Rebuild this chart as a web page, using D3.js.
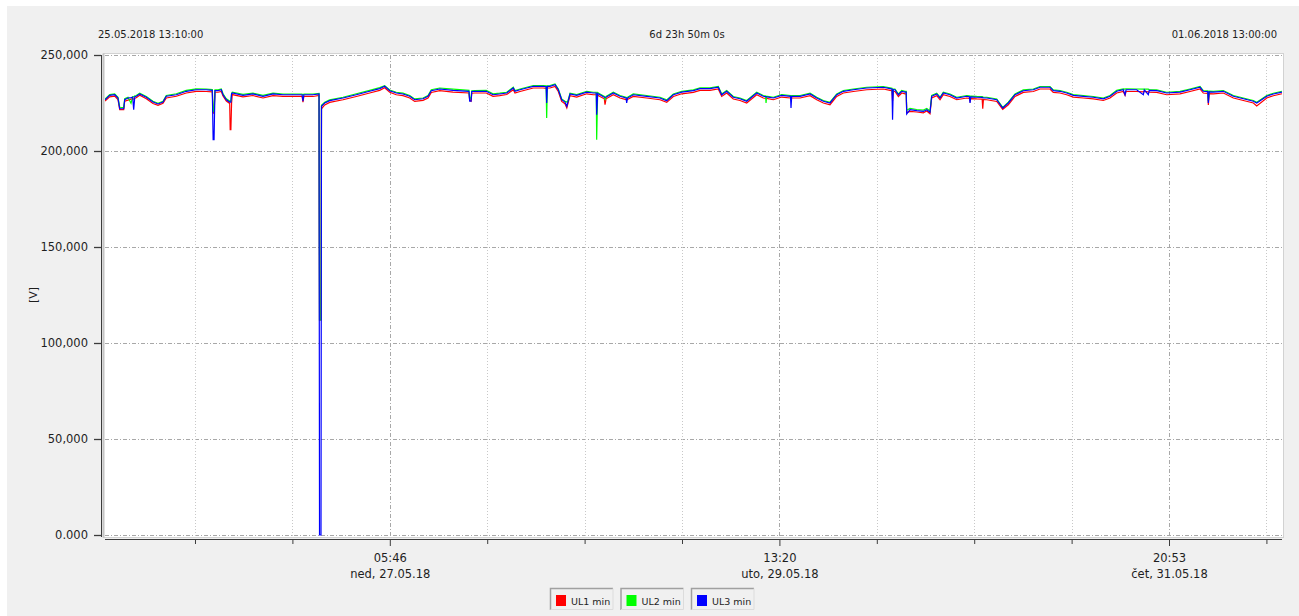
<!DOCTYPE html>
<html>
<head>
<meta charset="utf-8">
<script src="https://cdn.jsdelivr.net/npm/d3@7"></script>
<style>
html,body{margin:0;padding:0;background:#fff;}
svg{display:block;font-family:"DejaVu Sans",sans-serif;}
</style>
</head>
<body>
<svg id="chart" width="1299" height="616"></svg>
<script>
// ===== data =====
const startTime = '2018-05-25 13:10:00';
const endTime   = '2018-06-01 13:00:00';

// hours since start
const hours = [
0,0.67,1.38,1.85,2.10,2.67,2.81,3.28,3.71,3.95,4.09,4.25,4.46,4.95,5.89,6.84,7.56,8.27,8.74,10.17,
11.59,13.02,14.44,15.30,15.42,15.55,15.68,16.11,16.58,16.83,17.30,17.78,17.85,17.95,18.05,18.15,19.68,21.10,22.53,23.96,
25.38,26.81,28.10,28.23,28.36,29.66,30.52,30.59,30.80,30.87,31.33,32.04,33.94,35.83,37.74,39.17,39.88,40.60,41.54,42.49,
43.45,44.16,45.35,46.06,46.53,47.73,49.62,51.90,52.00,52.20,52.30,52.72,54.37,55.33,56.28,57.28,58.22,58.46,59.18,60.13,
61.07,62.50,62.90,62.98,63.08,63.45,64.17,64.64,65.12,65.59,65.85,66.00,66.31,67.26,68.69,69.63,70.05,70.11,70.25,70.58,
71.20,71.30,71.45,72.48,73.44,74.30,74.39,74.50,75.33,77.24,79.14,80.10,81.04,82.24,83.89,84.84,86.27,87.45,87.94,88.65,
89.59,90.55,91.50,92.93,93.87,94.20,94.26,94.35,95.30,96.49,97.75,97.82,97.92,99.11,100.54,101.49,102.43,103.38,104.34,105.28,
106.71,108.62,110.98,111.94,112.22,112.30,112.40,112.65,113.13,113.61,114.08,114.25,114.32,114.79,115.75,116.69,117.18,117.64,117.88,118.60,
119.07,119.54,120.49,121.45,122.88,123.25,123.35,123.45,124.30,125.08,125.16,125.26,125.73,127.16,128.01,128.81,129.76,130.95,132.37,133.33,
134.75,135.22,136.18,137.13,138.07,139.50,140.93,142.35,143.31,144.26,145.20,145.45,145.60,147.11,148.06,148.20,148.77,148.90,149.97,151.39,
153.29,154.71,156.14,156.61,157.25,157.33,157.45,158.04,159.47,160.90,162.32,163.75,164.23,165.66,166.60,167.83
];

// UL1 min (red)
const ul1 = [
226.0,228.2,228.6,226.8,221.6,221.6,225.9,226.5,227.0,227.2,227.0,227.5,227.7,229.0,227.2,224.7,223.8,224.8,227.6,228.5,
230.2,231.1,231.0,230.8,220.0,219.5,230.6,230.6,231.0,228.6,226.0,224.8,211.1,211.1,225.0,229.4,228.2,228.9,227.6,228.8,
228.5,228.4,228.5,225.5,228.5,228.4,228.9,112,112,222.0,224.0,225.3,226.7,228.4,230.2,231.6,232.9,230.6,229.3,228.8,
227.6,225.8,226.4,227.6,230.5,231.4,230.7,230.2,226.5,226.0,230.1,230.2,230.2,228.5,228.8,229.4,231.9,230.2,231.0,231.9,
232.8,232.8,232.6,232.6,232.8,232.8,233.6,231.0,225.8,224.6,222.4,224.6,228.8,228.1,229.8,229.3,229.3,229.0,229.1,228.4,
227.2,224.1,227.2,229.3,227.6,226.8,226.5,226.8,228.4,227.6,226.7,225.3,228.4,229.8,230.5,231.6,231.6,232.3,228.4,230.2,
227.1,226.3,225.0,229.3,227.6,227.4,227.4,227.4,226.7,228.1,227.6,227.0,227.6,227.6,228.8,226.7,225.0,224.1,228.4,230.2,
231.0,231.9,232.3,231.6,231.4,226.0,231.0,231.0,228.4,230.2,229.8,229.8,220.0,220.6,220.3,219.9,220.8,219.4,227.6,228.8,
226.7,229.3,228.4,226.7,227.6,227.4,226.0,227.3,227.1,227.0,222.0,226.8,226.7,225.8,221.7,224.1,228.4,230.5,231.0,232.3,
232.3,230.5,230.2,229.3,228.1,227.6,227.1,226.3,227.6,230.2,231.0,229.0,231.0,231.0,230.8,231.0,230.8,230.7,230.5,229.3,
229.8,231.0,232.3,230.2,230.0,224.0,229.9,229.8,230.2,227.6,226.3,225.0,223.5,227.6,228.8,229.8
];

// UL2 min (green)
const ul2 = [
227.0,229.4,229.8,228.0,222.8,222.6,227.2,228.0,224.8,228.3,228.2,228.7,228.9,230.1,228.4,225.9,224.9,225.9,228.9,229.8,
231.6,232.4,232.3,232.0,220.5,221.0,231.8,231.8,232.3,229.8,227.2,226.0,226.0,226.0,230.0,230.6,229.5,230.1,229.0,230.1,
229.7,229.7,229.7,229.2,229.7,229.7,230.0,112,112,223.8,225.4,226.6,228.0,229.8,231.6,233.0,234.0,231.8,230.6,230.1,
228.9,227.1,227.6,228.9,231.9,232.8,232.2,231.6,227.0,228.0,231.4,231.5,231.6,229.8,230.1,230.6,233.2,231.5,232.3,233.2,
234.1,234.1,234.0,217.2,234.0,234.1,234.9,232.3,227.1,225.9,225.5,225.9,230.1,229.4,231.1,230.6,230.6,205.9,230.4,229.7,
228.4,226.5,228.4,230.6,228.9,228.0,227.8,228.0,229.7,228.9,228.0,226.6,229.7,231.1,231.8,232.9,232.9,233.6,229.7,231.5,
228.4,227.6,226.3,230.6,228.9,228.7,225.0,228.6,228.0,229.4,228.9,228.5,228.9,228.9,230.1,228.0,226.3,225.4,229.7,231.5,
232.3,233.2,233.6,232.9,232.7,229.0,232.3,232.3,229.7,231.5,231.1,231.1,221.2,222.2,221.6,221.3,222.1,220.8,228.9,230.1,
228.0,230.6,229.7,228.0,228.9,228.7,228.5,228.6,228.4,228.3,228.2,228.1,228.0,227.1,222.7,225.4,229.7,231.8,232.3,233.6,
233.6,231.8,231.5,230.6,229.4,228.9,228.4,227.6,228.9,231.6,232.4,232.2,232.4,232.3,232.2,232.3,232.2,232.0,231.8,230.6,
231.1,232.3,233.6,231.5,231.3,226.0,231.2,231.1,231.5,228.9,227.6,226.3,225.4,228.9,230.1,231.1
];

// UL3 min (blue)
const ul3 = [
226.7,229.0,229.3,227.6,222.0,222.0,226.7,227.6,227.8,228.0,221.5,228.3,228.5,229.7,228.0,225.5,224.5,225.5,228.5,229.3,
231.1,231.9,231.9,231.6,205.9,205.9,231.4,231.4,231.9,229.3,226.7,225.5,225.5,225.5,229.8,230.2,229.0,229.7,228.5,229.7,
229.3,229.3,229.3,226.0,229.3,229.3,229.7,0,0,223.3,225.0,226.2,227.6,229.3,231.1,232.5,233.7,231.4,230.2,229.7,
228.5,226.7,227.2,228.5,231.4,232.3,231.6,231.1,225.9,225.9,231.0,231.1,231.1,229.3,229.7,230.2,232.8,231.1,231.9,232.8,
233.7,233.7,233.5,225.0,233.7,233.7,234.5,231.9,226.7,225.5,223.3,225.5,229.7,229.0,230.7,230.2,230.2,218.9,230.0,229.3,
228.0,228.0,228.0,230.2,228.5,227.6,225.0,227.6,229.3,228.5,227.6,226.2,229.3,230.7,231.4,232.5,232.5,233.2,229.3,231.1,
228.0,227.2,225.9,230.2,228.5,228.3,228.3,228.2,227.6,229.0,228.5,222.4,228.5,228.5,229.7,227.6,225.9,225.0,229.3,231.1,
231.9,232.8,233.2,232.5,232.3,216.3,232.0,231.9,229.3,231.1,230.7,230.7,219.3,221.5,221.0,220.6,221.5,220.1,228.5,229.7,
227.6,230.2,229.3,227.6,228.5,228.3,225.0,228.2,228.0,227.9,227.8,227.7,227.6,226.7,222.4,225.0,229.3,231.4,231.9,233.2,
233.2,231.4,231.1,230.2,229.0,228.5,228.0,227.2,228.5,231.1,231.9,229.3,231.9,231.9,229.3,231.8,229.3,231.6,231.4,230.2,
230.7,231.9,233.2,231.1,230.9,225.0,230.8,230.7,231.1,228.5,227.2,225.9,225.0,228.5,229.7,230.7
];

const seriesNames  = ['UL1 min','UL2 min','UL3 min'];
const seriesColors = ['#ff0000','#00ff00','#0000ff'];

const yTicks      = [0,50,100,150,200,250];
const yTickLabels = ['0.000','50,000','100,000','150,000','200,000','250,000'];

const majorTicks = ['2018-05-27 05:46:40','2018-05-29 13:20:00','2018-05-31 20:53:20'];
const minorTicks = ['2018-05-26 02:00:00','2018-05-26 15:53:20','2018-05-27 19:40:00','2018-05-28 09:33:20',
                    '2018-05-28 23:26:40','2018-05-30 03:13:20','2018-05-30 17:06:40','2018-05-31 07:00:00',
                    '2018-06-01 10:46:40'];
const dayNames = ['ned','pon','uto','sri','čet','pet','sub'];

// ===== setup =====
const svg = d3.select('#chart');
const P = {left:105, right:1282, top:55, bottom:535};
const parse = d3.timeParse('%Y-%m-%d %H:%M:%S');
const t0 = parse(startTime), t1 = parse(endTime);
const majors = majorTicks.map(parse), minors = minorTicks.map(parse);

const x = d3.scaleTime().domain([t0, t1]).range([P.left, P.right]);
const y = d3.scaleLinear().domain([0, 250]).range([P.bottom, P.top]);

const series = [ul1, ul2, ul3].map((vals, k) => ({
  name: seriesNames[k], color: seriesColors[k],
  pts: hours.map((h, i) => ({t: new Date(t0.getTime() + h*3600e3), v: vals[i]}))
}));

// background panel + canvas
svg.append('rect').attr('x',7).attr('y',6).attr('width',1292).attr('height',610).attr('fill','#f0f0f0');
svg.append('rect').attr('x',103.5).attr('y',53.5).attr('width',1180).attr('height',484)
  .attr('fill','#fff').attr('stroke','#d2d2d2').attr('stroke-width',1);
svg.append('line').attr('x1',103.5).attr('x2',103.5).attr('y1',53.5).attr('y2',537.5)
  .attr('stroke','#c4c4c4').attr('stroke-width',2);

// grid
const gGrid = svg.append('g');
gGrid.selectAll('line.h').data(yTicks).join('line').attr('class','h')
  .attr('x1',P.left).attr('x2',P.right+1).attr('y1',d=>y(d)+0.5).attr('y2',d=>y(d)+0.5)
  .attr('stroke','#a8a8a8').attr('stroke-dasharray','4,2,1,2');
gGrid.selectAll('line.vmin').data(minors).join('line').attr('class','vmin')
  .attr('x1',d=>Math.round(x(d))+0.5).attr('x2',d=>Math.round(x(d))+0.5).attr('y1',P.top).attr('y2',P.bottom+1)
  .attr('stroke','#c8c8c8').attr('stroke-dasharray','1,2');
gGrid.selectAll('line.vmaj').data(majors).join('line').attr('class','vmaj')
  .attr('x1',d=>Math.round(x(d))+0.5).attr('x2',d=>Math.round(x(d))+0.5).attr('y1',P.top).attr('y2',P.bottom+1)
  .attr('stroke','#a8a8a8').attr('stroke-dasharray','4,2,1,2');

// series
svg.append('clipPath').attr('id','plotclip').append('rect')
  .attr('x',P.left).attr('y',P.top-2).attr('width',P.right-P.left+1).attr('height',P.bottom-P.top+3);
const gPlot = svg.append('g').attr('clip-path','url(#plotclip)');
const line = d3.line().x(d=>x(d.t)).y(d=>y(d.v));
gPlot.selectAll('path').data(series).join('path')
  .attr('d', d=>line(d.pts))
  .attr('fill','none')
  .attr('stroke', d=>d.color)
  .attr('stroke-width',1.2)
  .attr('stroke-linejoin','miter');

// y axis
const yAxisG = svg.append('g').attr('transform','translate(101,0)')
  .call(d3.axisLeft(y).tickValues(yTicks).tickFormat((d,i)=>yTickLabels[i]).tickSize(7).tickSizeOuter(0).tickPadding(6));
yAxisG.select('.domain').attr('stroke','#3c3c3c').attr('d','M0.5,55V537');
yAxisG.selectAll('.tick line').attr('stroke','#3c3c3c').attr('stroke-width',1.3);
yAxisG.selectAll('.tick text').attr('fill','#1e1e1e').style('font-size','11.5px').style('font-family','"DejaVu Sans",sans-serif');

// x axis
const xMinG = svg.append('g').attr('transform','translate(0,539)')
  .call(d3.axisBottom(x).tickValues(minors).tickSize(5).tickSizeOuter(0).tickFormat(''));
xMinG.select('.domain').attr('stroke','#3c3c3c').attr('d',`M${P.left},0.5H${P.right}`);
xMinG.selectAll('.tick line').attr('stroke','#3c3c3c');
const xMajG = svg.append('g').attr('transform','translate(0,539)')
  .call(d3.axisBottom(x).tickValues(majors).tickSize(7).tickSizeOuter(0).tickFormat(''));
xMajG.select('.domain').remove();
xMajG.selectAll('.tick line').attr('stroke','#3c3c3c');
const fmtHM = d3.timeFormat('%H:%M'), fmtD = d3.timeFormat('%d.%m.%y');
const lbl = xMajG.selectAll('.tick').append('text')
  .attr('fill','#1e1e1e').attr('text-anchor','middle')
  .style('font-size','11.5px').style('font-family','"DejaVu Sans",sans-serif');
lbl.append('tspan').attr('x',0).attr('y',23).text(d=>fmtHM(d));
lbl.append('tspan').attr('x',0).attr('y',39).text(d=>`${dayNames[d.getDay()]}, ${fmtD(d)}`);

// axis title
svg.append('text').attr('transform','translate(37,295) rotate(-90)')
  .attr('text-anchor','middle').attr('fill','#1e1e1e').style('font-size','11px').text('[V]');

// header labels
const fmtFull = d3.timeFormat('%d.%m.%Y %H:%M:%S');
const secs = Math.round((t1 - t0)/1000);
const dur = `${Math.floor(secs/86400)}d ${Math.floor(secs%86400/3600)}h ${Math.floor(secs%3600/60)}m ${secs%60}s`;
const head = svg.append('g').style('font-size','10px').attr('fill','#1e1e1e');
head.append('text').attr('x',98).attr('y',38).text(fmtFull(t0));
head.append('text').attr('x',687).attr('y',38).attr('text-anchor','middle').text(dur);
head.append('text').attr('x',1277).attr('y',38).attr('text-anchor','end').text(fmtFull(t1));

// legend
const leg = svg.append('g').selectAll('g').data(series).join('g')
  .attr('transform',(d,i)=>`translate(${550 + i*70.5},588)`);
leg.append('rect').attr('width',63).attr('height',22).attr('fill','#f0f0f0');
leg.append('path').attr('d','M0.5,22V0.5H63').attr('fill','none').attr('stroke','#a0a0a0').attr('stroke-width',1.5);
leg.append('path').attr('d','M63,0.5V21.5H0.5').attr('fill','none').attr('stroke','#dcdcdc');
leg.append('rect').attr('x',6).attr('y',7).attr('width',10).attr('height',11).attr('fill',d=>d.color);
leg.append('text').attr('x',21).attr('y',16.5).attr('fill','#1e1e1e').style('font-size','9.5px').text(d=>d.name);
</script>
</body>
</html>
